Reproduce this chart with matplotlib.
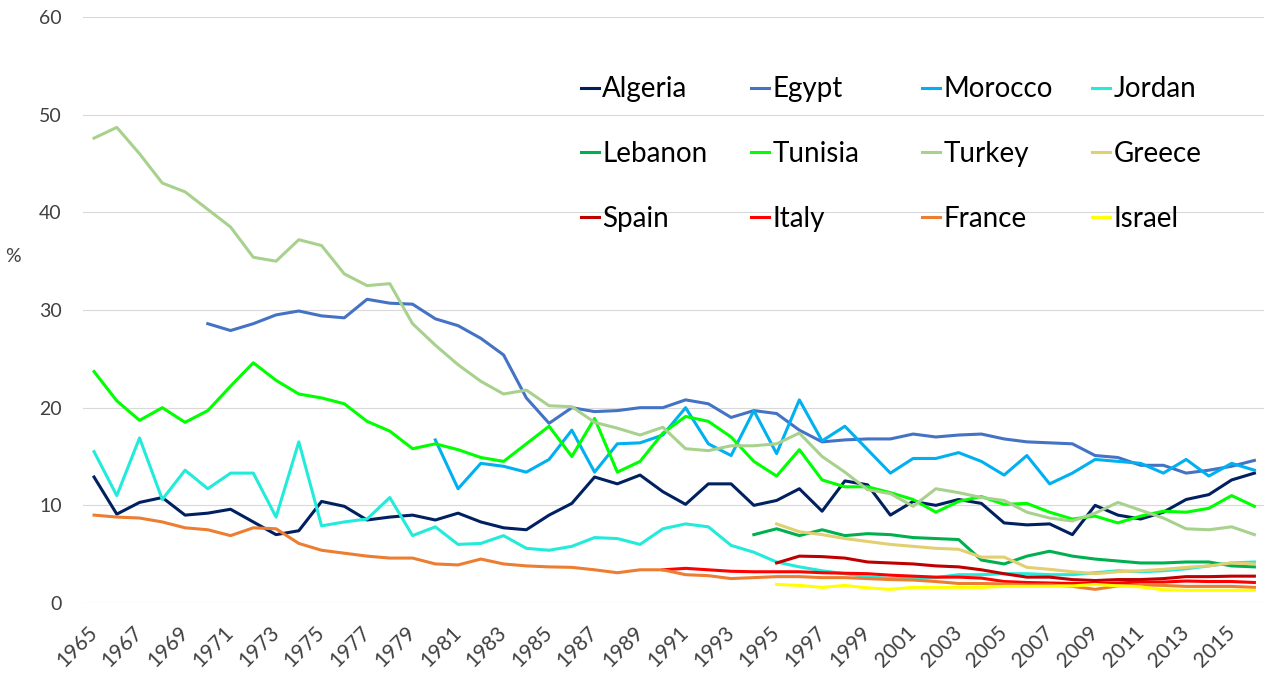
import matplotlib.pyplot as plt
import numpy as np

plt.rcParams['font.family'] = ['Lato', 'DejaVu Sans']

years = np.arange(1965, 2017)

# values in %, None where the series has no data
algeria = [12.9, 9.1, 10.3, 10.8, 9.0, 9.2, 9.6, 8.3, 7.0, 7.4,
           10.4, 9.9, 8.5, 8.8, 9.0, 8.5, 9.2, 8.3, 7.7, 7.5,
           9.0, 10.2, 12.9, 12.2, 13.1, 11.4, 10.1, 12.2, 12.2, 10.0,
           10.5, 11.7, 9.4, 12.5, 12.1, 9.0, 10.4, 10.0, 10.6, 10.2,
           8.2, 8.0, 8.1, 7.0, 10.0, 9.0, 8.6, 9.3, 10.6, 11.1,
           12.6, 13.3]
egypt = [None] * 5 + [
           28.6, 27.9, 28.6, 29.5, 29.9,
           29.4, 29.2, 31.1, 30.7, 30.6, 29.1, 28.4, 27.1, 25.4, 21.0,
           18.4, 20.0, 19.6, 19.7, 20.0, 20.0, 20.8, 20.4, 19.0, 19.7,
           19.4, 17.7, 16.5, 16.7, 16.8, 16.8, 17.3, 17.0, 17.2, 17.3,
           16.8, 16.5, 16.4, 16.3, 15.1, 14.9, 14.1, 14.1, 13.3, 13.6,
           14.0, 14.6]
morocco = [None] * 15 + [
           16.7, 11.7, 14.3, 14.0, 13.4,
           14.7, 17.7, 13.4, 16.3, 16.4, 17.2, 20.0, 16.3, 15.1, 19.7,
           15.3, 20.8, 16.6, 18.1, 15.7, 13.3, 14.8, 14.8, 15.4, 14.5,
           13.1, 15.1, 12.2, 13.3, 14.7, 14.5, 14.3, 13.3, 14.7, 13.0,
           14.3, 13.6]
jordan = [15.5, 11.0, 16.9, 10.6, 13.6, 11.7, 13.3, 13.3, 8.8, 16.5,
          7.9, 8.3, 8.6, 10.8, 6.9, 7.8, 6.0, 6.1, 6.9, 5.6,
          5.4, 5.8, 6.7, 6.6, 6.0, 7.6, 8.1, 7.8, 5.9, 5.2,
          4.2, 3.7, 3.3, 3.0, 2.7, 2.5, 2.5, 2.6, 2.9, 2.9,
          3.0, 3.0, 2.9, 2.9, 3.1, 3.3, 3.2, 3.3, 3.5, 3.8,
          4.1, 4.2]
lebanon = [None] * 29 + [
           7.0,
           7.6, 6.9, 7.5, 6.9, 7.1, 7.0, 6.7, 6.6, 6.5, 4.4,
           4.0, 4.8, 5.3, 4.8, 4.5, 4.3, 4.1, 4.1, 4.2, 4.2,
           3.8, 3.7]
tunisia = [23.7, 20.7, 18.7, 20.0, 18.5, 19.7, 22.2, 24.6, 22.8, 21.4,
           21.0, 20.4, 18.6, 17.6, 15.8, 16.3, 15.7, 14.9, 14.5, 16.3,
           18.1, 15.0, 18.9, 13.4, 14.5, 17.4, 19.1, 18.6, 17.0, 14.5,
           13.0, 15.7, 12.6, 11.9, 11.9, 11.3, 10.6, 9.3, 10.4, 10.9,
           10.1, 10.2, 9.3, 8.6, 8.9, 8.2, 8.9, 9.4, 9.3, 9.7,
           11.0, 9.9]
turkey = [47.6, 48.7, 46.0, 43.0, 42.1, 40.3, 38.5, 35.4, 35.0, 37.2,
          36.6, 33.7, 32.5, 32.7, 28.6, 26.4, 24.4, 22.7, 21.4, 21.8,
          20.2, 20.1, 18.5, 17.9, 17.2, 18.0, 15.8, 15.6, 16.1, 16.1,
          16.3, 17.4, 15.0, 13.4, 11.6, 11.2, 9.9, 11.7, 11.3, 10.8,
          10.5, 9.3, 8.7, 8.4, 9.2, 10.3, 9.5, 8.7, 7.6, 7.5,
          7.8, 7.0]
greece = [None] * 30 + [
          8.1, 7.3, 7.0, 6.6, 6.3, 6.0, 5.8, 5.6, 5.5, 4.7,
          4.7, 3.65, 3.45, 3.2, 3.0, 3.2, 3.3, 3.45, 3.65, 3.8,
          4.1, 4.0]
spain = [None] * 30 + [
         4.1, 4.8, 4.75, 4.6, 4.2, 4.1, 4.0, 3.8, 3.7, 3.4,
         3.0, 2.65, 2.65, 2.4, 2.3, 2.4, 2.4, 2.5, 2.7, 2.7,
         2.75, 2.75]
italy = [None] * 25 + [
         3.4, 3.55, 3.4, 3.25, 3.2,
         3.2, 3.2, 3.1, 3.05, 3.0, 2.85, 2.75, 2.65, 2.65, 2.55,
         2.2, 2.1, 2.05, 2.0, 2.0, 2.05, 2.15, 2.15, 2.25, 2.2,
         2.2, 2.1]
france = [9.0, 8.8, 8.7, 8.3, 7.7, 7.5, 6.9, 7.7, 7.6, 6.1,
          5.4, 5.1, 4.8, 4.6, 4.6, 4.0, 3.9, 4.5, 4.0, 3.8,
          3.7, 3.65, 3.4, 3.1, 3.4, 3.4, 2.9, 2.8, 2.5, 2.6,
          2.7, 2.7, 2.6, 2.6, 2.5, 2.4, 2.35, 2.2, 2.0, 2.0,
          1.95, 1.85, 1.85, 1.7, 1.4, 1.75, 1.85, 1.8, 1.7, 1.7,
          1.7, 1.6]
israel = [None] * 30 + [
          1.9, 1.8, 1.6, 1.8, 1.55, 1.4, 1.6, 1.6, 1.6, 1.6,
          1.7, 1.7, 1.7, 1.75, 1.9, 1.75, 1.65, 1.35, 1.3, 1.3,
          1.3, 1.3]

names = ['Algeria', 'Egypt', 'Morocco', 'Jordan',
         'Lebanon', 'Tunisia', 'Turkey', 'Greece',
         'Spain', 'Italy', 'France', 'Israel']
series = [algeria, egypt, morocco, jordan, lebanon, tunisia, turkey, greece,
          spain, italy, france, israel]
colors = ['#002060', '#4472C4', '#00B0F0', '#22EBD9',
          '#00B050', '#00FF00', '#A9D18E', '#E2CF72',
          '#C00000', '#FF0000', '#ED7D31', '#FFFF00']

fig = plt.figure(figsize=(12.64, 6.73), dpi=100)
ax = fig.add_axes([0.0654, 0.104, 0.936, 0.8707])

lines = []
for name, vals, col in zip(names, series, colors):
    ln, = ax.plot(years, np.array(vals, dtype=float), color=col, lw=2.2,
                  solid_joinstyle='round', label=name)
    lines.append(ln)

ax.set_xlim(1964.5, 2016.5)
ax.set_ylim(0, 60)
ax.set_yticks(range(0, 61, 10))
ax.set_xticks(years[::2])
ax.grid(axis='y', color='#D9D9D9', lw=0.8)
ax.set_axisbelow(True)
for s in ax.spines.values():
    s.set_visible(False)
ax.tick_params(length=0, labelsize=14, labelcolor='#404040')
ax.tick_params(axis='x', labelsize=15, pad=19)
ax.tick_params(axis='y', pad=15)
plt.setp(ax.get_xticklabels(), rotation=45, ha='right', va='center',
         rotation_mode='anchor')

fig.text(13 / 1264, 1 - 257 / 673, '%', fontsize=14, color='#404040',
         ha='center', va='center')

# legend: 4 columns x 3 rows, one legend per column
col_x = [581, 751, 922, 1092]
for c in range(4):
    idx = [c, c + 4, c + 8]
    fig.legend([lines[i] for i in idx], [names[i] for i in idx],
               loc='center left', bbox_to_anchor=(col_x[c] / 1264, 1 - 154 / 673),
               frameon=False, fontsize=20, borderpad=0, borderaxespad=0,
               handlelength=0.65, handletextpad=0.12, labelspacing=1.39)

fig.savefig('out.png', dpi=100)
